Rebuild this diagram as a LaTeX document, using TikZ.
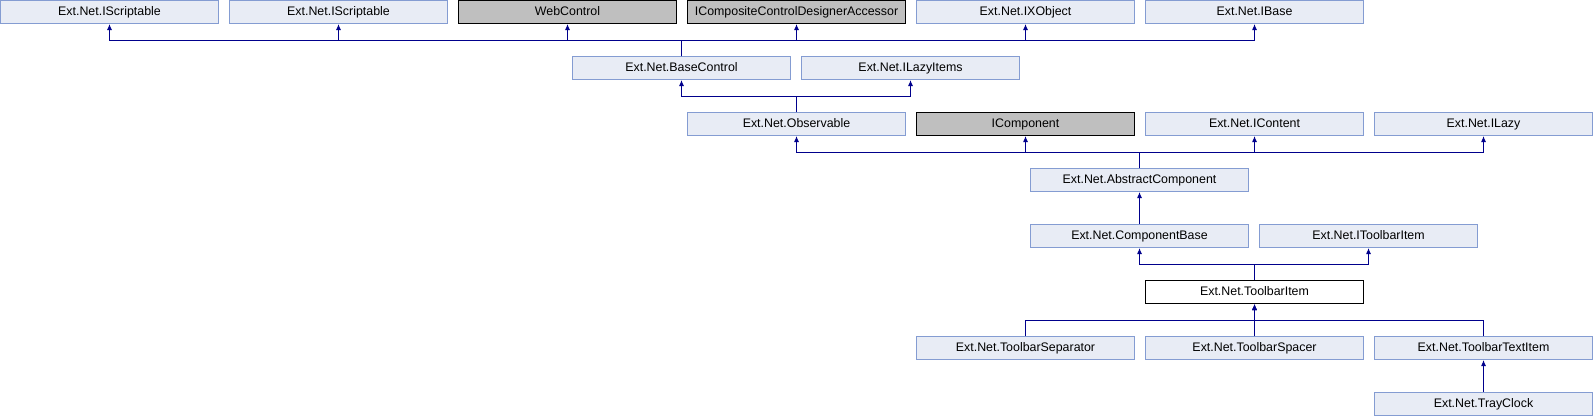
\documentclass[tikz,border=0pt]{standalone}
\usepackage{fontspec}
\setmainfont{Liberation Sans}
\usetikzlibrary{arrows.meta}
\definecolor{linknavy}{RGB}{0,0,140}
\definecolor{extfill}{RGB}{232,236,245}
\definecolor{extdraw}{RGB}{132,156,210}
\definecolor{extgray}{RGB}{191,191,191}
\tikzset{
  cls/.style={anchor=north west, minimum width=218pt, minimum height=23pt,
              inner sep=0pt, text height=9pt, text depth=2.5pt,
              line width=1pt, font=\fontsize{12.4}{14}\selectfont},
  extcls/.style={cls, draw=extdraw, fill=extfill},
  syscls/.style={cls, draw=black, fill=extgray},
  curcls/.style={cls, draw=black, fill=white},
  inherit/.style={draw=linknavy, line width=1pt, -{Latex[length=6pt,width=5pt]}}
}
\begin{document}
\begin{tikzpicture}[x=1pt,y=-1pt]
  \useasboundingbox (0,0) rectangle (1593,416);
  % row 1
  \node[extcls] (scripta) at (0,0) {Ext.Net.IScriptable};
  \node[extcls] (scriptb) at (229,0) {Ext.Net.IScriptable};
  \node[syscls] (webctl) at (458,0) {WebControl};
  \node[syscls] (designer) at (687,0) {ICompositeControlDesignerAccessor};
  \node[extcls] (ixobj) at (916,0) {Ext.Net.IXObject};
  \node[extcls] (ibase) at (1145,0) {Ext.Net.IBase};
  % row 2
  \node[extcls] (basectl) at (572,56) {Ext.Net.BaseControl};
  \node[extcls] (lazyitems) at (801,56) {Ext.Net.ILazyItems};
  % row 3
  \node[extcls] (observ) at (687,112) {Ext.Net.Observable};
  \node[syscls] (icomp) at (916,112) {IComponent};
  \node[extcls] (icontent) at (1145,112) {Ext.Net.IContent};
  \node[extcls] (ilazy) at (1374,112) {Ext.Net.ILazy};
  % rows 4 and 5
  \node[extcls] (abscomp) at (1030,168) {Ext.Net.AbstractComponent};
  \node[extcls] (compbase) at (1030,224) {Ext.Net.ComponentBase};
  \node[extcls] (itbitem) at (1259,224) {Ext.Net.IToolbarItem};
  % rows 6 to 8
  \node[curcls] (tbitem) at (1145,280) {Ext.Net.ToolbarItem};
  \node[extcls] (tbsep) at (916,336) {Ext.Net.ToolbarSeparator};
  \node[extcls] (tbspacer) at (1145,336) {Ext.Net.ToolbarSpacer};
  \node[extcls] (tbtext) at (1374,336) {Ext.Net.ToolbarTextItem};
  \node[extcls] (trayclk) at (1374,392) {Ext.Net.TrayClock};

  \foreach \p in {scripta,scriptb,webctl,designer,ixobj,ibase}
    \draw[inherit] (basectl.north) -- ++(0,-16) -| (\p.south);
  \foreach \p in {basectl,lazyitems}
    \draw[inherit] (observ.north) -- ++(0,-16) -| (\p.south);
  \foreach \p in {observ,icomp,icontent,ilazy}
    \draw[inherit] (abscomp.north) -- ++(0,-16) -| (\p.south);
  \draw[inherit] (compbase.north) -- (abscomp.south);
  \foreach \p in {compbase,itbitem}
    \draw[inherit] (tbitem.north) -- ++(0,-16) -| (\p.south);
  \foreach \c in {tbsep,tbspacer,tbtext}
    \draw[inherit] (\c.north) -- ++(0,-16) -| (tbitem.south);
  \draw[inherit] (trayclk.north) -- (tbtext.south);
\end{tikzpicture}
\end{document}
